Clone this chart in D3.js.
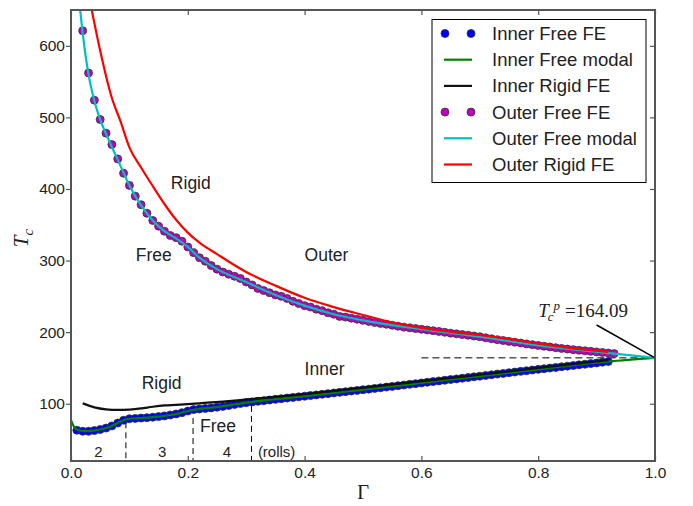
<!DOCTYPE html>
<meta charset="utf-8">
<style>
  body { margin: 0; background: #fff; }
  svg text { font-family: "Liberation Sans", Arial, sans-serif; fill: #222; }
  .serif { font-family: "Liberation Serif", "DejaVu Serif", serif; }
  .frame { fill: none; stroke: #555; stroke-width: 2; }
  .axis line { stroke: #555; stroke-width: 1.2; }
  .axis text { font-size: 15.5px; fill: #222; }
</style>
<svg width="693" height="506"></svg>
<script src="https://d3js.org/d3.v7.min.js"></script>
<script>

  // Inner free finite-element results
  var gammaInnerFE = [0.01, 0.02, 0.03, 0.04, 0.05, 0.06, 0.07, 0.08, 0.09, 0.10,
    0.11, 0.12, 0.13, 0.14, 0.15, 0.16, 0.17, 0.18, 0.19, 0.20,
    0.21, 0.22, 0.23, 0.24, 0.25, 0.26, 0.27, 0.28, 0.29, 0.30,
    0.31, 0.32, 0.33, 0.34, 0.35, 0.36, 0.37, 0.38, 0.39, 0.40,
    0.41, 0.42, 0.43, 0.44, 0.45, 0.46, 0.47, 0.48, 0.49, 0.50,
    0.51, 0.52, 0.53, 0.54, 0.55, 0.56, 0.57, 0.58, 0.59, 0.60,
    0.61, 0.62, 0.63, 0.64, 0.65, 0.66, 0.67, 0.68, 0.69, 0.70,
    0.71, 0.72, 0.73, 0.74, 0.75, 0.76, 0.77, 0.78, 0.79, 0.80,
    0.81, 0.82, 0.83, 0.84, 0.85, 0.86, 0.87, 0.88, 0.89, 0.90,
    0.91, 0.92];
  var tcInnerFE = [63, 61.5, 61.5, 62.5, 64, 66, 69, 73, 77, 79,
    79.5, 80, 80.5, 81.2, 82, 83, 84.3, 85.7, 87.5, 89.8,
    91.8, 92.7, 93.4, 94.2, 95.2, 96.3, 97.5, 99, 100.3, 101.5,
    102.5, 103.4, 104.3, 105.2, 106.1, 107, 107.9, 108.8, 109.6, 110.5,
    111.4, 112.3, 113.2, 114.1, 115, 115.9, 116.8, 117.7, 118.6, 119.5,
    120.4, 121.4, 122.3, 123.3, 124.2, 125.2, 126.1, 127.1, 128, 129,
    130, 130.9, 131.9, 132.8, 133.8, 134.7, 135.7, 136.6, 137.6, 138.5,
    139.5, 140.4, 141.4, 142.3, 143.3, 144.2, 145.2, 146.1, 147.1, 148,
    148.9, 149.8, 150.7, 151.6, 152.5, 153.4, 154.3, 155.2, 156.1, 157,
    158, 159];

  // Inner free modal solution
  var gammaInnerModal = [0, 0.005, 0.01, 0.02, 0.03, 0.04, 0.05, 0.06, 0.07, 0.08, 0.09, 0.10,
    0.12, 0.15, 0.18, 0.20, 0.22, 0.25, 0.28, 0.30, 0.40, 0.50, 0.60, 0.70, 0.80, 0.92, 1.0];
  var tcInnerModal = [77, 68, 64, 62, 61.8, 62.6, 64, 66, 69, 73, 77, 79,
    80, 82, 85.7, 89.8, 92.7, 95.2, 99, 101.5, 110.5, 119.5, 129, 138.5, 148, 159, 164.09];

  // Inner rigid finite-element results
  var gammaInnerRigid = [0.02, 0.04, 0.06, 0.08, 0.10, 0.12, 0.14, 0.16, 0.18, 0.20, 0.22, 0.24,
    0.26, 0.28, 0.30, 0.35, 0.40, 0.45, 0.50, 0.55, 0.60, 0.65, 0.70, 0.75, 0.80, 0.85, 0.90, 0.92];
  var tcInnerRigid = [100.5, 95, 92.2, 91.3, 91.8, 93.4, 95.8, 97.6, 98.4, 99.4, 100.6, 101.8,
    102.9, 104.3, 106, 109.5, 113.5, 118, 122.5, 127, 131.5, 136, 140.5, 145, 150, 154.5, 159, 161];

  // Outer free finite-element results
  var gammaOuterFE = [0.02, 0.03, 0.04, 0.05, 0.06, 0.07, 0.08, 0.09, 0.10,
    0.11, 0.12, 0.13, 0.14, 0.15, 0.16, 0.17, 0.18, 0.19, 0.20,
    0.21, 0.22, 0.23, 0.24, 0.25, 0.26, 0.27, 0.28, 0.29, 0.30,
    0.31, 0.32, 0.33, 0.34, 0.35, 0.36, 0.37, 0.38, 0.39, 0.40,
    0.41, 0.42, 0.43, 0.44, 0.45, 0.46, 0.47, 0.48, 0.49, 0.50,
    0.51, 0.52, 0.53, 0.54, 0.55, 0.56, 0.57, 0.58, 0.59, 0.60,
    0.61, 0.62, 0.63, 0.64, 0.65, 0.66, 0.67, 0.68, 0.69, 0.70,
    0.71, 0.72, 0.73, 0.74, 0.75, 0.76, 0.77, 0.78, 0.79, 0.80,
    0.81, 0.82, 0.83, 0.84, 0.85, 0.86, 0.87, 0.88, 0.89, 0.90,
    0.91, 0.92, 0.93];
  var tcOuterFE = [621, 562, 524, 497, 478, 462, 442, 422, 405,
    390, 378, 366, 356, 348, 341, 335, 332, 327, 319,
    311, 304, 299, 293, 288, 284, 281, 278, 275, 270,
    266, 261, 258, 255, 252, 250, 247, 243, 240, 237,
    235, 232, 230, 227, 225, 222, 221, 219.5, 218, 216.5,
    215, 213.5, 212.2, 211, 209.5, 208.3, 207, 206, 205, 204,
    203, 202, 201, 199.8, 198.6, 197.6, 196.6, 195.6, 194.6, 193.6,
    192.2, 190.8, 189.5, 188.3, 187.1, 186, 184.8, 183.6, 182.5, 181.4,
    180.3, 179.3, 178.3, 177.3, 176.4, 175.5, 174.7, 173.9, 173.2, 172.4,
    171.6, 170.8, 170];

  // Outer free modal solution
  var gammaOuterModal = [0.015, 0.02, 0.03, 0.04, 0.05, 0.06, 0.08, 0.10, 0.12, 0.14, 0.16, 0.18,
    0.20, 0.22, 0.25, 0.30, 0.35, 0.40, 0.45, 0.50, 0.60, 0.70, 0.80, 0.90, 0.93, 1.0];
  var tcOuterModal = [655, 618, 560, 523, 497, 477, 441, 405, 377, 356, 341, 331,
    319, 304, 288, 270, 252, 237, 225, 216.5, 204, 193.6, 181.4, 172.4, 170, 164.09];

  // Outer rigid finite-element results
  var gammaOuterRigid = [0.035, 0.05, 0.07, 0.085, 0.10, 0.12, 0.14, 0.16, 0.18, 0.20, 0.22, 0.25,
    0.30, 0.35, 0.40, 0.45, 0.50, 0.55, 0.60, 0.65, 0.70, 0.75, 0.80, 0.85, 0.92];
  var tcOuterRigid = [652, 593, 527, 494, 458, 430, 404, 379, 357, 339, 325, 309,
    284, 265, 248, 235, 224, 213.5, 206, 200.5, 196, 190.5, 184, 178.5, 172.5];

  var tcPlanar = 164.09;
  var rollBounds = [0.094, 0.209, 0.309];
  var rollTops = [74, 80, 97];
  var rollLabels = ["2", "3", "4", "(rolls)"];
  var rollLabelGamma = [0.047, 0.156, 0.267, 0.32];

  var xTicks = [0, 0.2, 0.4, 0.6, 0.8, 1.0];
  var yTicks = [100, 200, 300, 400, 500, 600];

  var legendNames = ["Inner Free FE", "Inner Free modal", "Inner Rigid FE",
    "Outer Free FE", "Outer Free modal", "Outer Rigid FE"];

  var svg = d3.select("svg");

  var x = d3.scaleLinear().domain([0, 1]).range([71, 655]);
  var y = d3.scaleLinear().domain([20, 650]).range([461, 10]);

  function zip(g, t) {
    return g.map(function (d, i) { return [d, t[i]]; });
  }

  svg.append("defs").append("clipPath")
    .attr("id", "plotclip")
    .append("rect")
    .attr("x", x(0)).attr("y", y(650))
    .attr("width", x(1) - x(0)).attr("height", y(20) - y(650));

  var line = d3.line()
    .x(function (d) { return x(d[0]); })
    .y(function (d) { return y(d[1]); })
    .curve(d3.curveMonotoneX);

  var plot = svg.append("g").attr("clip-path", "url(#plotclip)");

  // reference guides
  plot.append("line")
    .attr("x1", x(0.6)).attr("x2", x(1))
    .attr("y1", y(tcPlanar)).attr("y2", y(tcPlanar))
    .attr("stroke", "#000").attr("stroke-width", 1)
    .attr("stroke-dasharray", "7,4");

  plot.selectAll(".roll")
    .data(rollBounds)
    .enter().append("line")
    .attr("x1", function (d) { return x(d); })
    .attr("x2", function (d) { return x(d); })
    .attr("y1", function (d, i) { return y(rollTops[i]); })
    .attr("y2", y(20))
    .attr("stroke", "#000").attr("stroke-width", 1)
    .attr("stroke-dasharray", "6,4");

  function dots(data, fill) {
    plot.append("g")
      .selectAll("circle")
      .data(data)
      .enter().append("circle")
      .attr("cx", function (d) { return x(d[0]); })
      .attr("cy", function (d) { return y(d[1]); })
      .attr("r", 4)
      .attr("fill", fill)
      .attr("stroke", "#333")
      .attr("stroke-width", 0.8);
  }

  function curve(data, color) {
    plot.append("path")
      .datum(data)
      .attr("d", line)
      .attr("fill", "none")
      .attr("stroke", color)
      .attr("stroke-width", 2.2);
  }

  dots(zip(gammaInnerFE, tcInnerFE), "#0000ff");
  curve(zip(gammaInnerModal, tcInnerModal), "#008000");
  curve(zip(gammaInnerRigid, tcInnerRigid), "#111");
  dots(zip(gammaOuterFE, tcOuterFE), "#bf00bf");
  curve(zip(gammaOuterModal, tcOuterModal), "#00bfbf");
  curve(zip(gammaOuterRigid, tcOuterRigid), "#ff0000");

  // annotation pointer to planar value
  svg.append("line")
    .attr("x1", x(0.90)).attr("y1", y(210))
    .attr("x2", x(1)).attr("y2", y(tcPlanar))
    .attr("stroke", "#000").attr("stroke-width", 1.5);

  // axes
  var gx = svg.append("g").attr("class", "axis")
    .attr("transform", "translate(0," + y(20) + ")")
    .call(d3.axisBottom(x).tickValues(xTicks).tickSize(-5).tickPadding(6)
      .tickFormat(d3.format(".1f")));
  gx.select(".domain").remove();

  var gy = svg.append("g").attr("class", "axis")
    .attr("transform", "translate(" + x(0) + ",0)")
    .call(d3.axisLeft(y).tickValues(yTicks).tickSize(5).tickPadding(1));
  gy.select(".domain").remove();

  var gt = svg.append("g").attr("class", "axis")
    .attr("transform", "translate(0," + y(650) + ")")
    .call(d3.axisTop(x).tickValues(xTicks).tickSize(-5).tickFormat(""));
  gt.select(".domain").remove();

  var gr = svg.append("g").attr("class", "axis")
    .attr("transform", "translate(" + x(1) + ",0)")
    .call(d3.axisRight(y).tickValues(yTicks).tickSize(-5).tickFormat(""));
  gr.select(".domain").remove();

  svg.append("rect").attr("class", "frame")
    .attr("x", x(0)).attr("y", y(650))
    .attr("width", x(1) - x(0)).attr("height", y(20) - y(650));

  // axis labels
  svg.append("text")
    .attr("class", "serif")
    .attr("transform", "translate(28,238) rotate(-90)")
    .attr("text-anchor", "middle")
    .attr("font-size", 21)
    .attr("font-style", "italic")
    .text("T")
    .append("tspan")
    .attr("dy", 5)
    .attr("font-size", 15)
    .text("c");

  svg.append("text")
    .attr("class", "serif")
    .attr("x", x(0.5)).attr("y", 499)
    .attr("text-anchor", "middle")
    .attr("font-size", 21)
    .text("\u0393");

  // in-plot labels
  var labelText = ["Rigid", "Free", "Outer", "Inner", "Rigid", "Free"];
  var labelGamma = [0.171, 0.111, 0.40, 0.40, 0.121, 0.221];
  var labelTc = [400, 300, 300, 140, 120, 60];

  svg.selectAll(".lbl")
    .data(labelText)
    .enter().append("text")
    .attr("x", function (d, i) { return x(labelGamma[i]); })
    .attr("y", function (d, i) { return y(labelTc[i]); })
    .attr("font-size", 17.5)
    .text(function (d) { return d; });

  svg.selectAll(".rl")
    .data(rollLabels)
    .enter().append("text")
    .attr("x", function (d, i) { return x(rollLabelGamma[i]); })
    .attr("y", y(25.5))
    .attr("text-anchor", function (d, i) { return i < 3 ? "middle" : "start"; })
    .attr("font-size", 15)
    .text(function (d) { return d; });

  // T_c^p label
  var tp = svg.append("text")
    .attr("class", "serif")
    .attr("x", x(0.80)).attr("y", y(221))
    .attr("font-size", 19);
  tp.append("tspan").attr("font-style", "italic").text("T");
  tp.append("tspan").attr("font-style", "italic").attr("font-size", 13)
    .attr("dx", -1).attr("dy", 4).text("c");
  tp.append("tspan").attr("font-style", "italic").attr("font-size", 13)
    .attr("dx", 0).attr("dy", -11).text("p");
  tp.append("tspan").attr("dx", 5).attr("dy", 7)
    .text("=" + tcPlanar.toFixed(2));

  // legend
  var legendColors = ["#0000ff", "#008000", "#111", "#bf00bf", "#00bfbf", "#ff0000"];
  var legendDots = [true, false, false, true, false, false];

  var lg = svg.append("g").attr("transform", "translate(432,19.5)");
  lg.append("rect")
    .attr("width", 214).attr("height", 163)
    .attr("fill", "#fff").attr("stroke", "#000").attr("stroke-width", 1);

  var rows = lg.selectAll(".row")
    .data(legendNames)
    .enter().append("g")
    .attr("transform", function (d, i) { return "translate(0," + (14 + i * 26.2) + ")"; });

  rows.each(function (d, i) {
    var r = d3.select(this);
    if (legendDots[i]) {
      [13, 39].forEach(function (cx) {
        r.append("circle").attr("cx", cx).attr("cy", 0).attr("r", 4)
          .attr("fill", legendColors[i]).attr("stroke", "#333").attr("stroke-width", 0.8);
      });
    } else {
      r.append("line").attr("x1", 12).attr("x2", 40)
        .attr("stroke", legendColors[i]).attr("stroke-width", 2.2);
    }
  });

  rows.append("text")
    .attr("x", 60).attr("dy", "0.35em")
    .attr("font-size", 18.5)
    .text(function (d) { return d; });

</script>
